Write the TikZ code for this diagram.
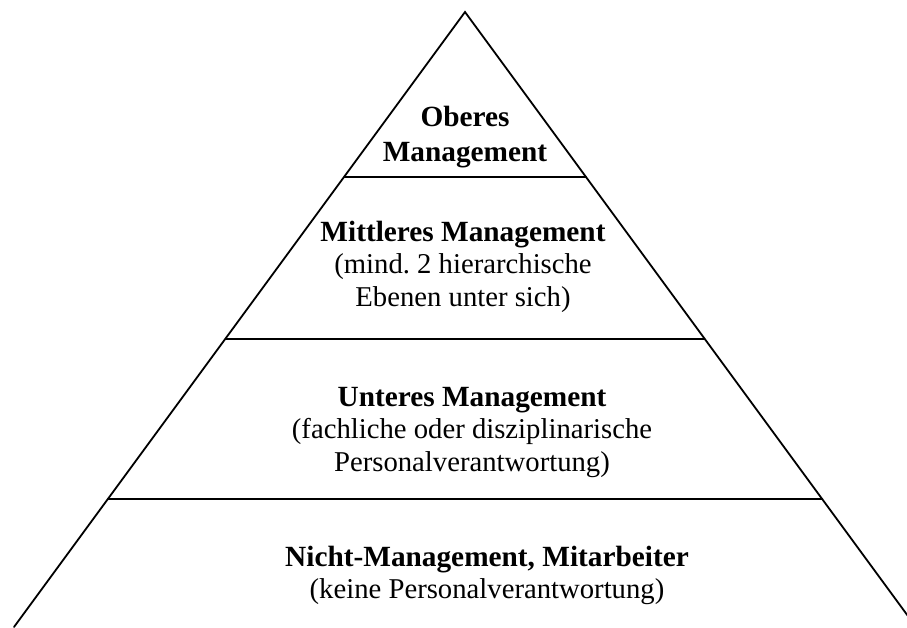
\documentclass[tikz,border=0pt]{standalone}
\usepackage{fontspec}
\setmainfont{Liberation Serif}
\usetikzlibrary{calc}
\newcommand\titlebf[1]{{\fontsize{29.3}{33.5}\selectfont\bfseries #1}}
\begin{document}
\begin{tikzpicture}[x=1pt,y=-1pt,
  edge/.style={line width=1.8pt, line cap=round, line join=miter},
  label/.style={align=center, inner sep=0pt, anchor=base,
     font=\fontsize{28.7}{33.5}\selectfont\frenchspacing}]
\useasboundingbox (0,0) rectangle (907,627);
\clip (0,0) rectangle (907,627);
\coordinate (apex) at (465,12);
\coordinate (bl) at (14,627);
\coordinate (br) at (916,627);
\coordinate (l1) at ($(apex)!0.2678!(bl)$);
\coordinate (r1) at ($(apex)!0.2678!(br)$);
\coordinate (l2) at ($(apex)!0.5312!(bl)$);
\coordinate (r2) at ($(apex)!0.5312!(br)$);
\coordinate (l3) at ($(apex)!0.7919!(bl)$);
\coordinate (r3) at ($(apex)!0.7919!(br)$);
\draw[edge] (bl) -- (apex) -- (br);
\draw[edge] (l1) -- (r1);
\draw[edge] (l2) -- (r2);
\draw[edge] (l3) -- (r3);
\node[label] (t1) at (465,161.7) {\titlebf{Oberes}\\[1.5pt]\titlebf{Management}};
\node[label] (t2) at (463,306.7) {\titlebf{Mittleres Management}\\[-2pt](mind. 2 hierarchische\\Ebenen unter sich)};
\node[label] (t3) at (472,471.7) {\titlebf{Unteres Management}\\[-2pt](fachliche oder disziplinarische\\Personalverantwortung)};
\node[label] (t4) at (487,598.3) {\titlebf{Nicht-Management, Mitarbeiter}\\[-2pt](keine Personalverantwortung)};
\end{tikzpicture}
\end{document}
